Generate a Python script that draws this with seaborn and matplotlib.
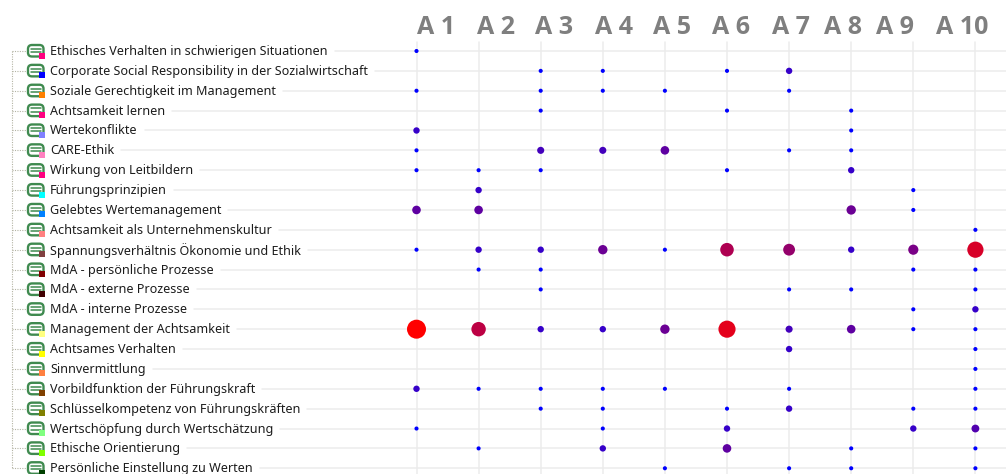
import matplotlib
matplotlib.use("Agg")
import matplotlib.pyplot as plt
import matplotlib.transforms as mtransforms
from matplotlib.patches import FancyBboxPatch, Rectangle
from matplotlib.lines import Line2D
import seaborn as sns
import pandas as pd

# ---------- data ----------
columns = ["A 1", "A 2", "A 3", "A 4", "A 5", "A 6", "A 7", "A 8", "A 9", "A 10"]
codes = [
    "Ethisches Verhalten in schwierigen Situationen",
    "Corporate Social Responsibility in der Sozialwirtschaft",
    "Soziale Gerechtigkeit im Management",
    "Achtsamkeit lernen",
    "Wertekonflikte",
    "CARE-Ethik",
    "Wirkung von Leitbildern",
    "Führungsprinzipien",
    "Gelebtes Wertemanagement",
    "Achtsamkeit als Unternehmenskultur",
    "Spannungsverhältnis Ökonomie und Ethik",
    "MdA - persönliche Prozesse",
    "MdA - externe Prozesse",
    "MdA - interne Prozesse",
    "Management der Achtsamkeit",
    "Achtsames Verhalten",
    "Sinnvermittlung",
    "Vorbildfunktion der Führungskraft",
    "Schlüsselkompetenz von Führungskräften",
    "Wertschöpfung durch Wertschätzung",
    "Ethische Orientierung",
    "Persönliche Einstellung zu Werten",
]
code_colors = ["#ff0080", "#0000ff", "#ff8000", "#ff0080", "#8080ff", "#ff80c0",
               "#ff0080", "#00ffff", "#0080ff", "#ff8080", "#804040", "#800000",
               "#400000", "#ffffff", "#ffff80", "#ffff00", "#ff8040", "#804000",
               "#808000", "#80ff80", "#80ff00", "#004000"]
counts = [
    [1, 0, 0, 0, 0, 0, 0, 0, 0, 0],
    [0, 0, 1, 1, 0, 1, 5, 0, 0, 0],
    [1, 0, 1, 1, 1, 0, 1, 0, 0, 0],
    [0, 0, 1, 0, 0, 1, 0, 1, 0, 0],
    [5, 0, 0, 0, 0, 0, 0, 1, 0, 0],
    [1, 0, 6, 6, 8, 0, 1, 1, 0, 0],
    [1, 1, 1, 0, 0, 1, 0, 5, 0, 0],
    [0, 5, 0, 0, 0, 0, 0, 0, 1, 0],
    [8, 8, 0, 0, 0, 0, 0, 9, 1, 0],
    [0, 0, 0, 0, 0, 0, 0, 0, 0, 1],
    [1, 5, 5, 9, 1, 14, 12, 5, 10, 17],
    [0, 1, 1, 0, 0, 0, 0, 0, 1, 1],
    [0, 0, 1, 0, 0, 0, 1, 1, 0, 1],
    [0, 0, 0, 0, 0, 0, 0, 0, 1, 5],
    [20, 15, 5, 5, 9, 18, 6, 8, 1, 1],
    [0, 0, 0, 0, 0, 0, 5, 0, 0, 1],
    [0, 0, 0, 0, 0, 0, 0, 0, 0, 1],
    [5, 1, 1, 1, 1, 0, 1, 0, 0, 1],
    [0, 0, 1, 1, 0, 1, 5, 0, 1, 1],
    [1, 0, 0, 1, 0, 5, 0, 0, 5, 7],
    [0, 1, 0, 5, 0, 8, 0, 1, 0, 1],
    [0, 0, 0, 0, 1, 0, 1, 1, 0, 1],
]
max_count = 20

# ---------- layout (pixels) ----------
W, H = 1006, 474
X0, DX = 416.5, 62.1
Y0, DY = 51.0, 19.87
header_left = [417, 477, 535, 595, 653, 712, 772, 824, 876, 936]

sns.set_theme(style="white")
plt.rcParams["font.family"] = ["Noto Sans", "DejaVu Sans"]

fig = plt.figure(figsize=(W / 100, H / 100), dpi=100)
ax = fig.add_axes([0, 0, 1, 1])
ax.set_xlim(-X0 / DX, (W - X0) / DX)
ax.set_ylim((H - Y0) / DY, -Y0 / DY)
ax.axis("off")

px = mtransforms.Affine2D().scale(1, -1).translate(0, H)  # pixel coords, y down

GRID = "#ececec"
fig.canvas.draw()
renderer = fig.canvas.get_renderer()

# tree trunk
ax.add_line(Line2D([11.5, 11.5], [Y0, Y0 + DY * (len(codes) - 1)], transform=px,
                   color="#b4b4a4", lw=0.8, ls=(0, (1, 1.2)), zorder=1, clip_on=False))

for j, (label, col) in enumerate(zip(codes, code_colors)):
    y = Y0 + j * DY
    t = ax.text(50, y + 0.5, label, transform=px, fontsize=9.05, color="#1c1c1c",
                ha="left", va="center", zorder=5)
    end = t.get_window_extent(renderer).x1
    ax.add_line(Line2D([end + 7, W], [y, y], transform=px, color=GRID, lw=1.1, zorder=1))
    ax.add_line(Line2D([11.5, 26], [y, y], transform=px, color="#b4b4a4", lw=0.8,
                       ls=(0, (1, 1.2)), zorder=1))
    # code icon
    ax.add_patch(FancyBboxPatch((28, y - 6), 15.5, 11.5, boxstyle="round,pad=0,rounding_size=4",
                                transform=px, fc="white", ec="#3f8a4f", lw=1.7, zorder=3))
    for dy in (-2.2, 1.0):
        ax.add_line(Line2D([31, 41], [y + dy, y + dy], transform=px, color="#3f8a4f", lw=1.1, zorder=4))
    if col != "#ffffff":
        ax.add_patch(Rectangle((39, y + 1.5), 6, 6, transform=px, fc=col, ec="none", zorder=4))

for i, (name, left) in enumerate(zip(columns, header_left)):
    x = X0 + i * DX
    ax.add_line(Line2D([x, x], [42, H], transform=px, color=GRID, lw=1.1, zorder=1))
    ax.text(left, 33.5, name, transform=px, fontsize=18, fontweight="bold",
            family=["Open Sans", "DejaVu Sans"], color="#7f7f7f", ha="left", va="baseline", zorder=5)

records = [(i, j, v) for j, row in enumerate(counts) for i, v in enumerate(row) if v > 0]
df = pd.DataFrame(records, columns=["col", "row", "count"])


def frac(v):
    return (v - 1) / (max_count - 1)


levels = sorted(df["count"].unique())
palette = {v: (frac(v), 0.0, 1.0 - frac(v)) for v in levels}
sizes = {v: ((4.1 + 14.9 * frac(v) ** 1.2) * 0.72) ** 2 for v in levels}

sns.scatterplot(data=df, x="col", y="row", hue="count", size="count", palette=palette,
                sizes=sizes, linewidth=0, legend=False, ax=ax, zorder=6)
ax.set_xlim(-X0 / DX, (W - X0) / DX)
ax.set_ylim((H - Y0) / DY, -Y0 / DY)

fig.savefig("out.png", dpi=100)
